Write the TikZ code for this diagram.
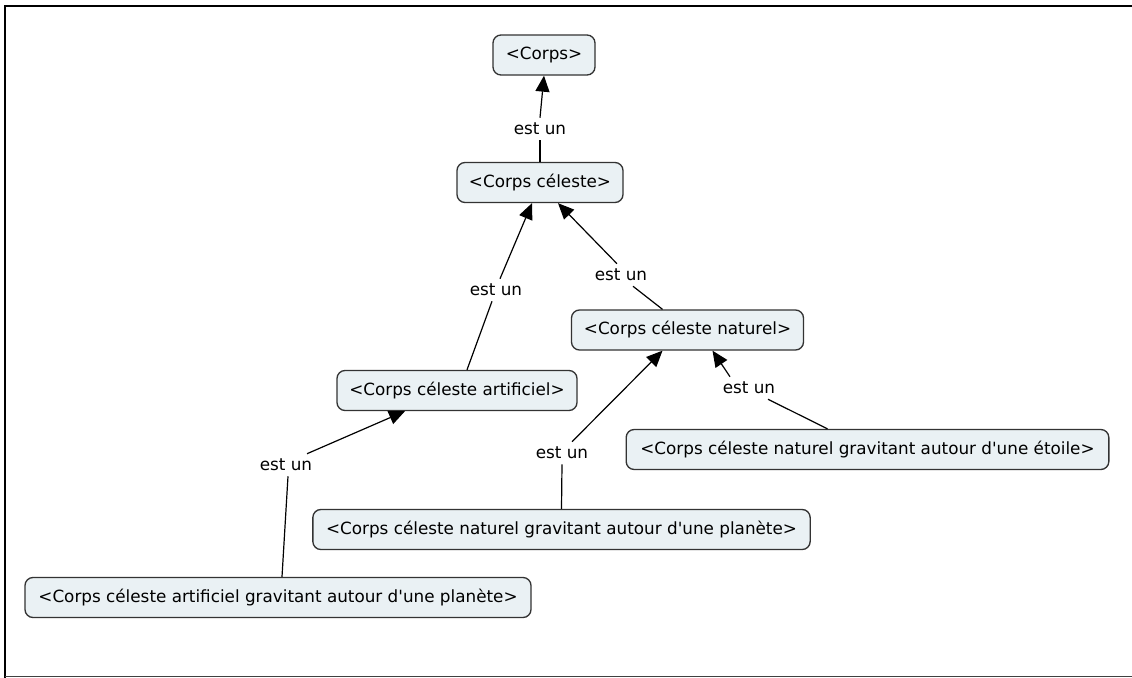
\documentclass[tikz,border=0pt]{standalone}
\usepackage{fontspec}
\setmainfont{DejaVu Sans}[Ligatures=TeXOff]
\usetikzlibrary{arrows.meta,calc}
\definecolor{boxfill}{RGB}{234,241,244}
\definecolor{boxline}{RGB}{51,51,51}
\begin{document}
\begin{tikzpicture}[x=0.75pt,y=-0.75pt,
  concept/.style={draw=boxline,fill=boxfill,line width=1pt,rounded corners=6pt,minimum height=30pt,inner sep=0pt,font=\fontsize{12.6}{15}\selectfont},
  lbl/.style={inner sep=0pt,minimum height=16.5pt,font=\fontsize{12.6}{15}\selectfont},
  conn/.style={line width=0.9pt,draw=black},
  arr/.style={conn,-{Triangle[length=12pt,width=10.5pt]}}]
\useasboundingbox (0,0) rectangle (1132,678);
% frame
\draw[line width=1.8pt] (1132,6) -- (5,6) -- (5,678);
\draw[line width=1pt,black!75] (5,676.5) -- (1132,676.5);
% concepts
\node[concept,minimum width=76.5pt] (corps) at (544,55) {<Corps>};
\node[concept,minimum width=124.5pt] (cel) at (540,182.5) {<Corps céleste>};
\node[concept,minimum width=174pt] (nat) at (687.5,330) {<Corps céleste naturel>};
\node[concept,minimum width=180pt] (art) at (457,390.5) {<Corps céleste artificiel>};
\node[concept,minimum width=362pt] (etoile) at (867.5,449.5) {<Corps céleste naturel gravitant autour d'une étoile>};
\node[concept,minimum width=373pt] (natpl) at (561.5,529.5) {<Corps céleste naturel gravitant autour d'une planète>};
\node[concept,minimum width=379.5pt] (artpl) at (278,597.5) {<Corps céleste artificiel gravitant autour d'une planète>};
% linking phrases
\node[lbl] (l1) at (540,129) {est un};
\node[lbl] (l2) at (496,290) {est un};
\node[lbl] (l3) at (621,275) {est un};
\node[lbl] (l4) at (749,388) {est un};
\node[lbl] (l5) at (562,453) {est un};
\node[lbl] (l6) at (286,465) {est un};
% connectors
\draw[conn] (cel.north) -- (l1.south);
\draw[arr] (l1.north) -- (corps.south);
\draw[conn] ($(art.north)+(10,0)$) -- ($(l2.south)+(-4,0)$);
\draw[arr] ($(l2.north)+(4,0)$) -- ($(cel.south)+(-8,0)$);
\draw[conn] ($(nat.north)+(-25,0)$) -- ($(l3.south)+(12,0)$);
\draw[arr] ($(l3.north)+(-4,0)$) -- ($(cel.south)+(18,0)$);
\draw[conn] ($(etoile.north)+(-40,0)$) -- ($(l4.south)+(19,0)$);
\draw[arr] ($(l4.north)+(-19,0)$) -- ($(nat.south)+(25,0)$);
\draw[conn] (natpl.north) -- (l5.south);
\draw[arr] ($(l5.north)+(10,0)$) -- ($(nat.south)+(-25,0)$);
\draw[conn] ($(artpl.north)+(4,0)$) -- ($(l6.south)+(2,0)$);
\draw[arr] ($(l6.north)+(21,0)$) -- ($(art.south)+(-52,0)$);
\end{tikzpicture}
\end{document}
